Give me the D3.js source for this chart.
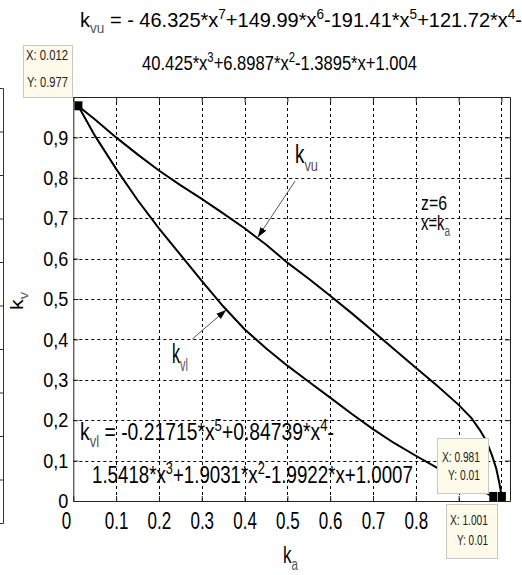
<!DOCTYPE html>
<html>
<head>
<meta charset="utf-8">
<script src="https://cdn.jsdelivr.net/npm/d3@7"></script>
<style>
  body { margin: 0; background: #fff; }
</style>
</head>
<body>
<div id="chart"></div>
<script>
// values
const xTicks = [0, 0.1, 0.2, 0.3, 0.4, 0.5, 0.6, 0.7, 0.8, 0.9, 1];
const xTickLabels = ['0', '0.1', '0.2', '0.3', '0.4', '0.5', '0.6', '0.7', '0.8', '0.9', ''];
const yTicks = [0, 0.1, 0.2, 0.3, 0.4, 0.5, 0.6, 0.7, 0.8, 0.9];
const yTickLabels = ['0', '0,1', '0,2', '0,3', '0,4', '0,5', '0,6', '0,7', '0,8', '0,9'];

// upper curve k_vu
const kaUpper = [0.012, 0.05, 0.1, 0.15, 0.2, 0.25, 0.3, 0.35, 0.4, 0.45, 0.5, 0.55, 0.6, 0.65, 0.7, 0.75, 0.8, 0.85, 0.9, 0.93, 0.95, 0.965, 0.978, 0.988, 0.995, 1.001];
const kvUpper = [0.977, 0.945, 0.9, 0.858, 0.818, 0.782, 0.748, 0.712, 0.675, 0.635, 0.59, 0.55, 0.508, 0.465, 0.42, 0.375, 0.33, 0.285, 0.238, 0.205, 0.175, 0.148, 0.113, 0.08, 0.045, 0.01];
// lower curve k_vl
const kaLower = [0.012, 0.05, 0.1, 0.15, 0.2, 0.25, 0.3, 0.35, 0.4, 0.45, 0.5, 0.55, 0.6, 0.65, 0.7, 0.75, 0.8, 0.85, 0.9, 0.95, 0.981];
const kvLower = [0.977, 0.905, 0.822, 0.745, 0.675, 0.61, 0.545, 0.482, 0.425, 0.378, 0.335, 0.295, 0.256, 0.216, 0.178, 0.143, 0.112, 0.082, 0.055, 0.028, 0.01];

// data tips
const tipX = [0.012, 0.981, 1.001];
const tipY = [0.977, 0.01, 0.01];

const width = 522, height = 575;
const FONT = "'Liberation Sans', Arial, sans-serif";

let svg = d3.select('#chart').append('svg')
            .attr('width', width)
            .attr('height', height)
            .attr('viewBox', [0, 0, width, height]);

let x = d3.scaleLinear().domain([0, 1.02]).range([73.3, 510]);
let y = d3.scaleLinear().domain([0, 1]).range([501, 97]);

const crisp = v => Math.round(v) + 0.5;

// text with super/subscripts, squeezed to a given width
function eq(px, py, parts, size, w, rot) {
  let t = svg.append('text')
             .attr('font-family', FONT)
             .attr('font-size', size)
             .attr('fill', '#000');
  let shift = 0;
  parts.forEach(p => {
    let s = typeof p === 'string' ? p : p[0];
    let kind = typeof p === 'string' ? '' : p[1];
    let target = kind === 'sup' ? -0.4 * size : (kind === 'sub' ? 0.3 * size : 0);
    t.append('tspan')
     .attr('dy', target - shift)
     .attr('font-size', kind ? size * 0.68 : size)
     .attr('fill', kind === 'sub' ? '#555' : null)
     .text(s);
    shift = target;
  });
  let len = t.node().getComputedTextLength();
  let tr = 'translate(' + px + ',' + py + ')';
  if (rot) tr += ' rotate(' + rot + ')';
  t.attr('transform', tr + ' scale(' + (w / len) + ',1)');
  return t;
}

// piece of a neighbouring figure at the left edge
svg.append('g')
   .attr('transform', 'translate(3,0)')
   .style('color', '#333')
   .call(d3.axisLeft(d3.scaleLinear().domain([0, 1]).range([523, 88]))
           .ticks(10).tickSize(3).tickSizeOuter(3).tickFormat(''));

// grid
svg.append('g')
   .selectAll('line')
   .data(xTicks.slice(1))
   .join('line')
   .attr('x1', d => crisp(x(d)))
   .attr('x2', d => crisp(x(d)))
   .attr('y1', y(0))
   .attr('y2', y(1))
   .attr('stroke', '#000')
   .attr('stroke-dasharray', '3,3');

svg.append('g')
   .selectAll('line')
   .data(yTicks.slice(1))
   .join('line')
   .attr('x1', x(0))
   .attr('x2', x(1.02))
   .attr('y1', d => crisp(y(d)))
   .attr('y2', d => crisp(y(d)))
   .attr('stroke', '#000')
   .attr('stroke-dasharray', '3,3');

// axes
let xa = svg.append('g')
            .attr('transform', 'translate(0,' + y(0) + ')')
            .style('color', '#222')
            .call(d3.axisBottom(x).tickValues(xTicks)
                    .tickFormat((d, i) => xTickLabels[i])
                    .tickSize(-5).tickSizeOuter(0).tickPadding(12));
xa.selectAll('text')
  .attr('font-size', 23)
  .attr('font-family', FONT)
  .attr('fill', '#000')
  .attr('transform', 'scale(0.74,1)');
xa.select('.tick text').attr('x', -10);

let ya = svg.append('g')
            .attr('transform', 'translate(' + x(0) + ',0)')
            .style('color', '#222')
            .call(d3.axisLeft(y).tickValues(yTicks)
                    .tickFormat((d, i) => yTickLabels[i])
                    .tickSize(-5).tickSizeOuter(0).tickPadding(5));
ya.selectAll('text')
  .attr('font-size', 21)
  .attr('font-family', FONT)
  .attr('fill', '#000')
  .attr('x', -5 / 0.86)
  .attr('transform', 'scale(0.86,1)');

svg.append('g')
   .attr('transform', 'translate(0,' + y(1) + ')')
   .style('color', '#222')
   .call(d3.axisTop(x).tickValues(xTicks).tickFormat('').tickSize(-5).tickSizeOuter(0));

svg.append('g')
   .attr('transform', 'translate(' + x(1.02) + ',0)')
   .style('color', '#222')
   .call(d3.axisRight(y).tickValues(yTicks.concat([1])).tickFormat('').tickSize(-5).tickSizeOuter(0));

// curves
let line = d3.line().x(d => x(d[0])).y(d => y(d[1]));

svg.append('path')
   .datum(kaUpper.map((d, i) => [d, kvUpper[i]]))
   .attr('d', line)
   .attr('fill', 'none')
   .attr('stroke', '#000')
   .attr('stroke-width', 2);

svg.append('path')
   .datum(kaLower.map((d, i) => [d, kvLower[i]]))
   .attr('d', line)
   .attr('fill', 'none')
   .attr('stroke', '#000')
   .attr('stroke-width', 2);

// arrows to the curves
svg.append('defs').append('marker')
   .attr('id', 'ah')
   .attr('viewBox', '0 -5 10 10')
   .attr('refX', 10)
   .attr('refY', 0)
   .attr('markerWidth', 10)
   .attr('markerHeight', 10)
   .attr('markerUnits', 'userSpaceOnUse')
   .attr('orient', 'auto')
   .append('path')
   .attr('d', 'M0,-3.5L10,0L0,3.5Z')
   .attr('fill', '#000');

svg.append('line')
   .attr('x1', x(0.518)).attr('y1', y(0.792))
   .attr('x2', x(0.431)).attr('y2', y(0.653))
   .attr('stroke', '#555')
   .attr('marker-end', 'url(#ah)');

svg.append('line')
   .attr('x1', x(0.278)).attr('y1', y(0.401))
   .attr('x2', x(0.357)).attr('y2', y(0.473))
   .attr('stroke', '#555')
   .attr('marker-end', 'url(#ah)');

// labels and equations
eq(80, 27, ['k', ['vu', 'sub'], ' = - 46.325*x', ['7', 'sup'], '+149.99*x', ['6', 'sup'],
            '-191.41*x', ['5', 'sup'], '+121.72*x', ['4', 'sup'], '-'], 21, 442);
eq(142, 70, ['40.425*x', ['3', 'sup'], '+6.8987*x', ['2', 'sup'], '-1.3895*x+1.004'], 21, 275);

eq(80, 440, ['k', ['vl', 'sub'], ' = -0.21715*x', ['5', 'sup'], '+0.84739*x', ['4', 'sup'], '-'], 23, 254);
eq(92, 483, ['1.5418*x', ['3', 'sup'], '+1.9031*x', ['2', 'sup'], '-1.9922*x+1.0007'], 23, 321);

eq(295, 163, ['k', ['vu', 'sub']], 25, 23);
eq(172, 363, ['k', ['vl', 'sub']], 27, 16);

eq(421, 210, ['z=6'], 21, 26);
eq(421, 230, ['x=k', ['a', 'sub']], 21, 29);

eq(23, 310, ['k', ['v', 'sub']], 18, 18, -90);
eq(283, 563, ['k', ['a', 'sub']], 23, 15);

// data tips
svg.append('g')
   .selectAll('rect')
   .data(tipX)
   .join('rect')
   .attr('x', d => x(d) - 4)
   .attr('y', (d, i) => y(tipY[i]) - 5)
   .attr('width', 8)
   .attr('height', 9)
   .attr('fill', '#000');

function tipBox(bx, by, bw, bh, l1, l2, t1, t2, w1, w2) {
  svg.append('rect')
     .attr('x', bx + 0.5).attr('y', by + 0.5)
     .attr('width', bw).attr('height', bh)
     .attr('fill', '#fffbea')
     .attr('stroke', '#c8c8c0');
  eq(l1[0], l1[1], [t1], 15, w1).attr('fill', '#222');
  eq(l2[0], l2[1], [t2], 15, w2).attr('fill', '#222');
}

tipBox(23, 45, 49, 52, [26, 60], [27, 87], 'X: ' + tipX[0], 'Y: ' + tipY[0], 42, 41);
tipBox(437, 438, 51, 55, [442, 462], [448, 480], 'X: ' + tipX[1], 'Y: ' + tipY[1], 38, 32);
tipBox(446, 504, 51, 54, [450, 525], [457, 545], 'X: ' + tipX[2], 'Y: ' + tipY[2], 38, 31);
</script>
</body>
</html>
